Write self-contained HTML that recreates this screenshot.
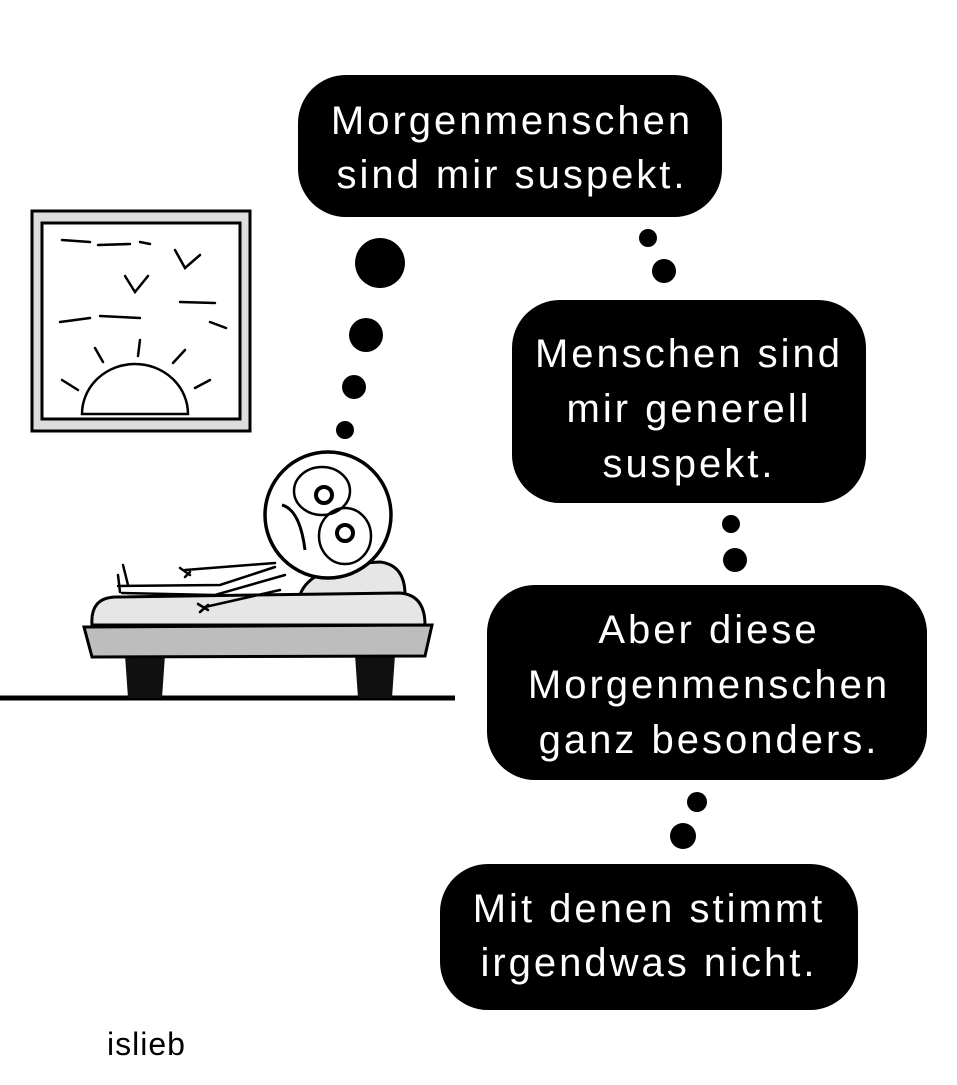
<!DOCTYPE html>
<html><head><meta charset="utf-8"><style>
html,body{margin:0;padding:0;background:#fff;}
body{width:957px;height:1080px;overflow:hidden;}
svg text{font-family:"Liberation Sans","DejaVu Sans",sans-serif;fill:#fff;font-size:40px;letter-spacing:3px;}
</style></head><body>
<svg width="957" height="1080" viewBox="0 0 957 1080" xmlns="http://www.w3.org/2000/svg">
<rect x="32" y="211" width="218" height="220" fill="#ddd" stroke="#000" stroke-width="3"/>
<rect x="42" y="223" width="198" height="196" fill="#fff" stroke="#000" stroke-width="3"/>
<g stroke="#000" stroke-width="2.5" fill="none" stroke-linecap="round">
<path d="M62 240 L90 242 M98 245 L130 244 M140 242 L150 244"/>
<path d="M175 250 L185 268 L200 255 M125 276 L135 292 L148 276"/>
<path d="M60 322 L90 318 M100 316 L140 318 M180 302 L215 303 M210 322 L226 328"/>
<path d="M82 414 A53 50 0 0 1 188 414 Z" fill="#fff"/>
<path d="M95 348 L103 362 M140 340 L138 356 M185 350 L173 363 M62 380 L78 390 M210 380 L195 388"/>
</g>
<line x1="0" y1="698" x2="455" y2="698" stroke="#000" stroke-width="5"/>
<path d="M125 655 L165 655 L162 698 L128 698 Z" fill="#111"/>
<path d="M355 655 L395 655 L392 698 L358 698 Z" fill="#111"/>
<path d="M300 595 Q310 565 380 562 Q405 565 405 595 Z" fill="#e6e6e6" stroke="#000" stroke-width="3"/>
<path d="M92 625 Q90 598 115 597 L400 593 Q425 595 425 625 Z" fill="#e6e6e6" stroke="#000" stroke-width="3"/>
<path d="M84 627 L432 625 L425 656 L92 657 Z" fill="#bdbdbd" stroke="#000" stroke-width="3"/>
<g stroke="#000" stroke-width="2.5" fill="none" stroke-linecap="round">
<path d="M118 586 L220 585 L275 567 M122 593 L215 595 L285 575"/>
<path d="M123 565 L128 585 M118 575 L120 592"/>
<path d="M185 570 L275 563 M180 568 L190 575 M185 577 L190 572"/>
<path d="M205 607 L280 590 M198 604 L208 610 M200 612 L208 605"/>
</g>
<circle cx="328" cy="515" r="63" fill="#fff" stroke="#000" stroke-width="3.5"/>
<g stroke="#000" stroke-width="2.5" fill="none">
<ellipse cx="322" cy="491" rx="28" ry="24"/>
<ellipse cx="345" cy="536" rx="26" ry="28"/>
<circle cx="324" cy="495" r="8" stroke-width="4"/>
<circle cx="345" cy="533" r="8" stroke-width="4"/>
<path d="M282 505 Q300 510 305 550" stroke-width="3"/>
</g>
<g fill="#000">
<circle cx="380" cy="263" r="25"/><circle cx="366" cy="335" r="17"/>
<circle cx="354" cy="387" r="12"/><circle cx="345" cy="430" r="9"/>
<circle cx="648" cy="238" r="9"/><circle cx="664" cy="271" r="12"/>
<circle cx="731" cy="524" r="9"/><circle cx="735" cy="560" r="12"/>
<circle cx="697" cy="802" r="10"/><circle cx="683" cy="836" r="13"/>
</g>
<rect x="298" y="75" width="424" height="142" rx="48" fill="#000"/>
<text x="512" y="134" text-anchor="middle">Morgenmenschen</text>
<text x="512" y="188" text-anchor="middle">sind mir suspekt.</text>
<rect x="512" y="300" width="354" height="203" rx="48" fill="#000"/>
<text x="689" y="367" text-anchor="middle">Menschen sind</text>
<text x="689" y="422" text-anchor="middle">mir generell</text>
<text x="689" y="477" text-anchor="middle">suspekt.</text>
<rect x="487" y="585" width="440" height="195" rx="48" fill="#000"/>
<text x="709" y="643" text-anchor="middle">Aber diese</text>
<text x="709" y="698" text-anchor="middle">Morgenmenschen</text>
<text x="709" y="753" text-anchor="middle">ganz besonders.</text>
<rect x="440" y="864" width="418" height="146" rx="48" fill="#000"/>
<text x="649" y="922" text-anchor="middle">Mit denen stimmt</text>
<text x="649" y="976" text-anchor="middle">irgendwas nicht.</text>
<text x="107" y="1055" style="fill:#000;font-size:32px;letter-spacing:1px">islieb</text>
</svg>
</body></html>
